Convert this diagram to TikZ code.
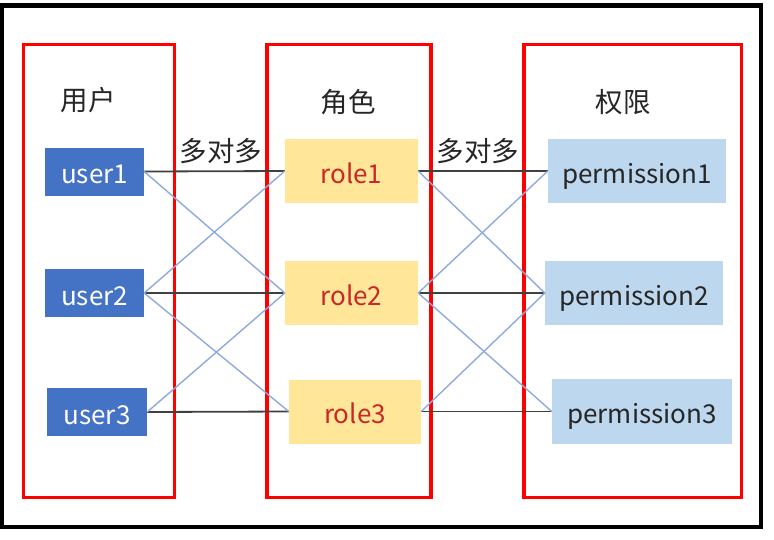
\documentclass[tikz,border=0pt]{standalone}
\usepackage{fontspec}
\setmainfont{Noto Sans CJK SC}
\definecolor{userblue}{HTML}{4472C4}
\definecolor{rolefill}{HTML}{FFE699}
\definecolor{roletext}{RGB}{200,40,40}
\definecolor{permfill}{HTML}{BDD7EE}
\definecolor{darktext}{HTML}{262626}
\definecolor{crossblue}{HTML}{8FAADC}
\definecolor{linkgray}{HTML}{404040}
\tikzset{
  base/.style={inner sep=0pt, font=\fontsize{26}{30}\selectfont, text height=24pt, text depth=0pt},
  userbox/.style={base, fill=userblue, text=white, minimum width=99pt, minimum height=48pt},
  rolebox/.style={base, fill=rolefill, text=roletext, minimum width=133pt, minimum height=64pt},
  permbox/.style={base, fill=permfill, text=darktext, minimum width=178pt, minimum height=64pt},
  heading/.style={inner sep=0pt, text=darktext, font=\fontsize{27.5}{32}\selectfont},
  group/.style={draw=red, line width=3.5pt},
  straight/.style={draw=linkgray, line width=1.8pt},
  cross/.style={draw=crossblue, line width=1.4pt}
}
\begin{document}
\begin{tikzpicture}[x=1pt,y=-1pt]
\useasboundingbox (0,0) rectangle (774,539);
\fill[white] (0,0) rectangle (774,539);
\draw[black, line width=4.5pt] (1.5,5.5) rectangle (761,527);
% groups
\draw[group] (23.5,44.5) rectangle (174.5,497.5);
\draw[group] (267,44.5) rectangle (431,497.5);
\draw[group] (524,44.5) rectangle (741.5,497.5);
% headings
\node[heading] (hu) at (88,100) {用户};
\node[heading] (hr) at (348,102) {角色};
\node[heading] (hp) at (623,102) {权限};
\node[heading] (m1) at (221,151) {多对多};
\node[heading] (m2) at (478,151) {多对多};
% boxes
\node[userbox] (u1) at (94.5,171.5) {user1};
\node[userbox] (u2) at (94.5,293) {user2};
\node[userbox, minimum width=100pt] (u3) at (97,412) {user3};
\node[rolebox] (r1) at (351.5,171) {role1};
\node[rolebox] (r2) at (351.5,293) {role2};
\node[rolebox, minimum width=132pt] (r3) at (355,411.5) {role3};
\node[permbox] (p1) at (637,171) {permission1};
\node[permbox] (p2) at (634,293) {permission2};
\node[permbox, minimum width=180pt, minimum height=65pt] (p3) at (642,411.5) {permission3};
% connectors
\draw[straight] (u1.east) -- (r1.west);
\draw[straight] (u2.east) -- (r2.west);
\draw[straight] (u3.east) -- (r3.west);
\draw[straight] (r1.east) -- (p1.west);
\draw[straight] (r2.east) -- (p2.west);
\draw[straight] (r3.east) -- (p3.west);
\draw[cross] (u1.east) -- (r2.west);
\draw[cross] (u2.east) -- (r1.west);
\draw[cross] (u2.east) -- (r3.west);
\draw[cross] (u3.east) -- (r2.west);
\draw[cross] (r1.east) -- (p2.west);
\draw[cross] (r2.east) -- (p1.west);
\draw[cross] (r2.east) -- (p3.west);
\draw[cross] (r3.east) -- (p2.west);
\end{tikzpicture}
\end{document}
